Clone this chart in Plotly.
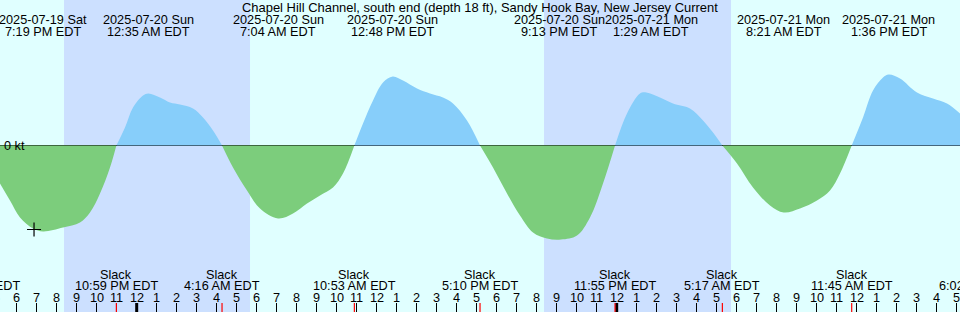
import plotly.graph_objects as go
import pandas as pd

TITLE = "Chapel Hill Channel, south end (depth 18 ft), Sandy Hook Bay, New Jersey Current"
BASE = pd.Timestamp("2025-07-20 00:00")

# current curve: hours since 2025-07-20 00:00 EDT, speed in knots
curve_hours = [-6.835, -6.335, -5.835, -5.185, -4.683, -3.685, -2.835, -2.335, -1.835, -1.335, -1.017,
               -0.585, -0.185, 0.315, 0.583, 1.165, 1.665, 2.165, 2.815, 3.315, 3.815, 4.267,
               4.815, 5.515, 6.165, 7.067, 7.815, 8.515, 9.165, 9.815, 10.315, 10.883,
               11.315, 11.815, 12.315, 12.8, 13.315, 14.015, 14.665, 15.315, 15.815, 16.515, 17.167,
               17.815, 18.515, 19.165, 19.815, 20.515, 21.217, 22.015, 22.665, 23.315, 23.917,
               24.515, 25.165, 25.483, 26.165, 26.815, 27.665, 28.315, 28.815, 29.283,
               30.015, 30.815, 31.665, 32.35, 33.165, 34.015, 34.665, 35.165, 35.75,
               36.315, 36.815, 37.315, 37.6, 38.165, 39.015, 39.815, 40.515, 41.165]
curve_kt = [-0.633, -0.917, -1.20, -1.383, -1.433, -1.367, -1.283, -1.117, -0.80, -0.367, 0.0,
            0.30, 0.633, 0.833, 0.867, 0.80, 0.717, 0.683, 0.617, 0.467, 0.25, 0.0,
            -0.367, -0.75, -1.05, -1.217, -1.133, -0.967, -0.833, -0.70, -0.467, 0.0,
            0.367, 0.75, 1.05, 1.15, 1.083, 0.95, 0.867, 0.80, 0.70, 0.417, 0.0,
            -0.367, -0.80, -1.167, -1.45, -1.55, -1.567, -1.50, -1.20, -0.633, 0.0,
            0.533, 0.867, 0.883, 0.80, 0.70, 0.617, 0.417, 0.217, 0.0,
            -0.30, -0.70, -1.00, -1.117, -1.05, -0.917, -0.75, -0.467, 0.0,
            0.467, 0.917, 1.133, 1.183, 1.117, 0.883, 0.783, 0.70, 0.533]

# max flood / max ebb events (top labels)
event_times = ["2025-07-19 19:19", "2025-07-20 00:35", "2025-07-20 07:04", "2025-07-20 12:48",
               "2025-07-20 21:13", "2025-07-21 01:29", "2025-07-21 08:21", "2025-07-21 13:36"]
# slack water events (bottom labels)
slack_times = ["2025-07-19 16:17", "2025-07-19 22:59", "2025-07-20 04:16", "2025-07-20 10:53",
               "2025-07-20 17:10", "2025-07-20 23:55", "2025-07-21 05:17", "2025-07-21 11:45",
               "2025-07-21 18:02"]
sunset_times = ["2025-07-19 20:22", "2025-07-20 20:22"]
sunrise_times = ["2025-07-20 05:40", "2025-07-21 05:43"]
now_time = "2025-07-19 18:52"
now_kt = -1.40

VIEW_START = pd.Timestamp("2025-07-19 17:09:54")
VIEW_END = pd.Timestamp("2025-07-21 17:09:54")

DAY_BG = "#e0ffff"
NIGHT_BG = "#cce0ff"
FLOOD = "#87cefa"
EBB = "#7ccd7c"
FONT = "Liberation Sans, Arial, sans-serif"
FS = 12.7
H = 312
# small horizontal nudges of crowded top labels (pixels), as in the reference
label_nudge = {"2025-07-20 21:13": -2, "2025-07-21 01:29": 5}


def py(pix):
    return 1 - pix / H


def tlabel(t):
    h = t.hour % 12 or 12
    return f"{h}:{t.minute:02d} {'AM' if t.hour < 12 else 'PM'} EDT"


def xpos(t):
    """Annotation x: data coords inside the view, paper fraction when the anchor lies outside
    (plotly hides data-anchored annotations that fall off the axis)."""
    if VIEW_START <= t <= VIEW_END:
        return dict(x=t, xref="x")
    return dict(x=(t - VIEW_START) / (VIEW_END - VIEW_START), xref="paper")


times = [BASE + pd.Timedelta(hours=h) for h in curve_hours]

# split curve into flood/ebb segments at slack points
segments = []
cur_x, cur_y = [], []
for t, v in zip(times, curve_kt):
    cur_x.append(t)
    cur_y.append(v)
    if v == 0 and len(cur_x) > 1:
        segments.append((cur_x, cur_y))
        cur_x, cur_y = [t], [v]
if len(cur_x) > 1:
    segments.append((cur_x, cur_y))

fig = go.Figure()
for sx, sy in segments:
    pos = sum(sy) > 0
    col = FLOOD if pos else EBB
    fig.add_trace(go.Scatter(x=sx, y=sy, mode="lines", line=dict(width=0, color=col, shape="spline", smoothing=1.0),
                             fill="tozeroy", fillcolor=col, hoverinfo="skip", showlegend=False))

fig.add_trace(go.Scatter(x=[pd.Timestamp(now_time)], y=[now_kt], mode="markers",
                         marker=dict(symbol="cross-thin", size=10, line=dict(width=1.2, color="black")),
                         hoverinfo="skip", showlegend=False))

shapes = []
for s, r in zip(sunset_times, sunrise_times):
    shapes.append(dict(type="rect", xref="x", yref="paper", x0=s, x1=r, y0=0, y1=1,
                       fillcolor=NIGHT_BG, line=dict(width=0), layer="below"))
shapes.append(dict(type="line", xref="paper", yref="y", x0=0, x1=1, y0=0, y1=0,
                   line=dict(color="black", width=1), layer="below"))

hour_ticks = pd.date_range("2025-07-19 17:00", "2025-07-21 18:00", freq="h")
hour_text = [str(t.hour % 12 or 12) for t in hour_ticks]
TL = 9 / H
for t in hour_ticks:
    if t.hour == 0:
        shapes.append(dict(type="line", xref="x", yref="paper", x0=t, x1=t, y0=0, y1=TL,
                           line=dict(color="black", width=3)))
for s in slack_times:
    shapes.append(dict(type="line", xref="x", yref="paper", x0=s, x1=s, y0=0, y1=TL,
                       line=dict(color="red", width=1.2)))

annotations = [dict(text=TITLE, xref="paper", yref="paper", x=0.5, y=py(7.5), showarrow=False,
                    xanchor="center", yanchor="middle", font=dict(size=12.95, color="black", family=FONT))]
for e in event_times:
    t = pd.Timestamp(e)
    dx = label_nudge.get(e, 0)
    annotations.append(dict(text=t.strftime("%Y-%m-%d %a"), y=py(20.5), yref="paper", **xpos(t),
                            showarrow=False, xanchor="center", yanchor="middle", xshift=dx,
                            font=dict(size=FS, color="black", family=FONT)))
    annotations.append(dict(text=tlabel(t), y=py(32.5), yref="paper", **xpos(t),
                            showarrow=False, xanchor="center", yanchor="middle", xshift=dx,
                            font=dict(size=FS, color="black", family=FONT)))
for s in slack_times:
    t = pd.Timestamp(s)
    annotations.append(dict(text="Slack", y=py(274.5), yref="paper", **xpos(t),
                            showarrow=False, xanchor="center", yanchor="middle",
                            font=dict(size=FS, color="black", family=FONT)))
    annotations.append(dict(text=tlabel(t), y=py(286), yref="paper", **xpos(t),
                            showarrow=False, xanchor="center", yanchor="middle",
                            font=dict(size=FS, color="black", family=FONT)))
for t, lab in zip(hour_ticks, hour_text):
    annotations.append(dict(text=lab, y=py(297.5), yref="paper", **xpos(t),
                            showarrow=False, xanchor="center", yanchor="middle",
                            font=dict(size=FS, color="black", family=FONT)))
annotations.append(dict(text="0 kt", x=0.002, y=0, xref="paper", yref="y", showarrow=False,
                        xanchor="left", yanchor="middle", font=dict(size=FS, color="black", family=FONT)))

fig.update_layout(
    width=960, height=H, margin=dict(l=0, r=0, t=0, b=0),
    paper_bgcolor=DAY_BG, plot_bgcolor=DAY_BG,
    shapes=shapes, annotations=annotations, showlegend=False,
    xaxis=dict(type="date", range=[VIEW_START, VIEW_END], showgrid=False, zeroline=False,
               showticklabels=False, tickvals=list(hour_ticks), ticks="inside", ticklen=9,
               tickcolor="black", tickwidth=1, showline=False, fixedrange=True),
    yaxis=dict(range=[-166.5 / 60, 145.5 / 60], showgrid=False, zeroline=False, showticklabels=False,
               showline=False, fixedrange=True),
)

fig.write_html("out.html")
